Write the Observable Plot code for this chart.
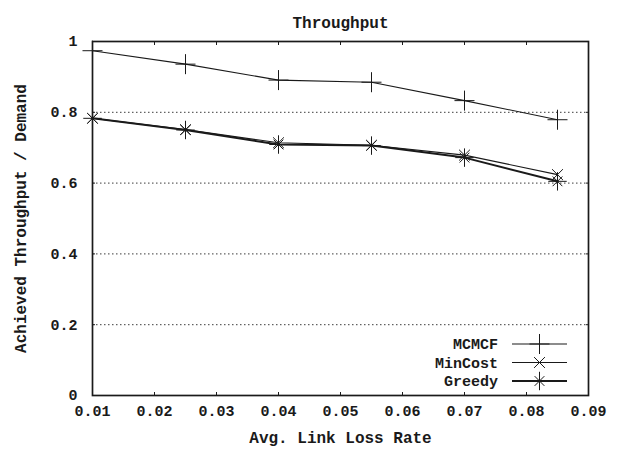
<!DOCTYPE html>
<html>
<head>
<meta charset="utf-8">
<script src="https://cdn.jsdelivr.net/npm/d3@7"></script>
<script src="https://cdn.jsdelivr.net/npm/@observablehq/plot@0.6"></script>
<style>
  html, body { margin: 0; padding: 0; background: #fff; }
  #chart svg { display: block; }
</style>
</head>
<body>
<div id="chart"></div>
<script>
// ---- data ----
const lossRates = [0.01, 0.025, 0.04, 0.055, 0.07, 0.085];
const mcmcf   = [0.974, 0.936, 0.891, 0.885, 0.833, 0.779];
const minCost = [0.783, 0.751, 0.714, 0.707, 0.679, 0.624];
const greedy  = [0.783, 0.750, 0.709, 0.706, 0.672, 0.605];
const seriesNames = ["MCMCF", "MinCost", "Greedy"];
const xTicks = [0.01, 0.02, 0.03, 0.04, 0.05, 0.06, 0.07, 0.08, 0.09];
const yTicks = [0, 0.2, 0.4, 0.6, 0.8, 1];
const gridTicks = [0.2, 0.4, 0.6, 0.8];
const titleText = "Throughput";
const xLabelText = "Avg. Link Loss Rate";
const yLabelText = "Achieved Throughput / Demand";

const seriesValues = [mcmcf, minCost, greedy];
const rows = seriesNames.flatMap((s, i) =>
  lossRates.map((x, j) => ({series: s, x, y: seriesValues[i][j]})));
const bySeries = s => rows.filter(d => d.series === s);

const ink = "#1a1a1a";
const font = "Liberation Mono, Courier New, monospace";

// symbol list per series: [symbol, r]
const styles = {
  MCMCF:   {sw: 1.1, symbols: [["plus", 6.5]]},
  MinCost: {sw: 1.1, symbols: [["times", 5]]},
  Greedy:  {sw: 2,   symbols: [["plus", 6], ["times", 4.5]]}
};
const d3sym = {plus: d3.symbolPlus, times: d3.symbolTimes};

function legend(index, scales, values, dims) {
  const g = d3.create("svg:g");
  const right = dims.width - dims.marginRight;
  const x0 = right - 76, x1 = right - 21, xm = (x0 + x1) / 2, xt = right - 90;
  const y0 = dims.height - dims.marginBottom - 51;
  seriesNames.forEach((s, i) => {
    const y = y0 + i * 18.5;
    const st = styles[s];
    g.append("text").attr("x", xt).attr("y", y).attr("dy", "0.35em")
      .attr("text-anchor", "end").attr("font-family", font)
      .attr("font-size", 15).attr("font-weight", "bold").attr("fill", ink).text(s);
    g.append("line").attr("x1", x0).attr("x2", x1).attr("y1", y).attr("y2", y)
      .attr("stroke", ink).attr("stroke-width", st.sw);
    st.symbols.forEach(([sym, r]) => {
      const path = d3.symbol(d3sym[sym], Math.PI * r * r)();
      g.append("path").attr("d", path).attr("transform", `translate(${xm},${y})`)
        .attr("fill", "none").attr("stroke", ink).attr("stroke-width", 1);
    });
  });
  return g.node();
}

const marks = [
  Plot.gridY(gridTicks, {stroke: ink, strokeOpacity: 0.85, strokeDasharray: "1.5,2.5", strokeWidth: 1}),
  Plot.frame({stroke: ink, strokeWidth: 1.7}),
  // inward ticks
  Plot.axisX(xTicks, {anchor: "bottom", tickSize: 3, dy: -3, text: null, label: null, stroke: ink}),
  Plot.axisX(xTicks, {anchor: "top", tickSize: 3, dy: 3, text: null, label: null, stroke: ink}),
  Plot.axisY(yTicks, {anchor: "left", tickSize: 3, dx: 3, text: null, label: null, stroke: ink}),
  Plot.axisY(yTicks, {anchor: "right", tickSize: 3, dx: -3, text: null, label: null, stroke: ink}),
  // tick labels
  Plot.axisX(xTicks, {anchor: "bottom", tickSize: 0, tickPadding: 10, label: null,
    tickFormat: d => d.toFixed(2), fontSize: 15, fontWeight: "bold", fill: ink}),
  Plot.axisY(yTicks, {anchor: "left", tickSize: 0, tickPadding: 15, label: null,
    tickFormat: d => (d === 0 || d === 1) ? String(d) : d.toFixed(1), fontSize: 15, fontWeight: "bold", fill: ink}),
];

seriesNames.forEach(s => {
  const st = styles[s];
  marks.push(Plot.line(bySeries(s), {x: "x", y: "y", stroke: ink, strokeWidth: st.sw}));
  st.symbols.forEach(([sym, r]) => {
    marks.push(Plot.dot(bySeries(s), {x: "x", y: "y", symbol: sym, r, stroke: ink, strokeWidth: 1, fill: "none"}));
  });
});

marks.push(
  Plot.text([titleText], {frameAnchor: "top", dy: -25, text: d => d, fontSize: 16, fontWeight: "bold", fill: ink}),
  Plot.text([xLabelText], {frameAnchor: "bottom", dy: 47, text: d => d, fontSize: 16, fontWeight: "bold", fill: ink}),
  Plot.text([yLabelText], {frameAnchor: "left", dx: -72, rotate: -90, textAnchor: "middle", text: d => d, fontSize: 16, fontWeight: "bold", fill: ink}),
  legend
);

const chart = Plot.plot({
  width: 617,
  height: 452,
  marginLeft: 92,
  marginRight: 29,
  marginTop: 41,
  marginBottom: 57,
  style: {fontFamily: font, background: "#fff", color: ink},
  x: {domain: [0.01, 0.09], axis: null},
  y: {domain: [0, 1], axis: null},
  marks
});
document.getElementById("chart").appendChild(chart);
</script>
</body>
</html>
